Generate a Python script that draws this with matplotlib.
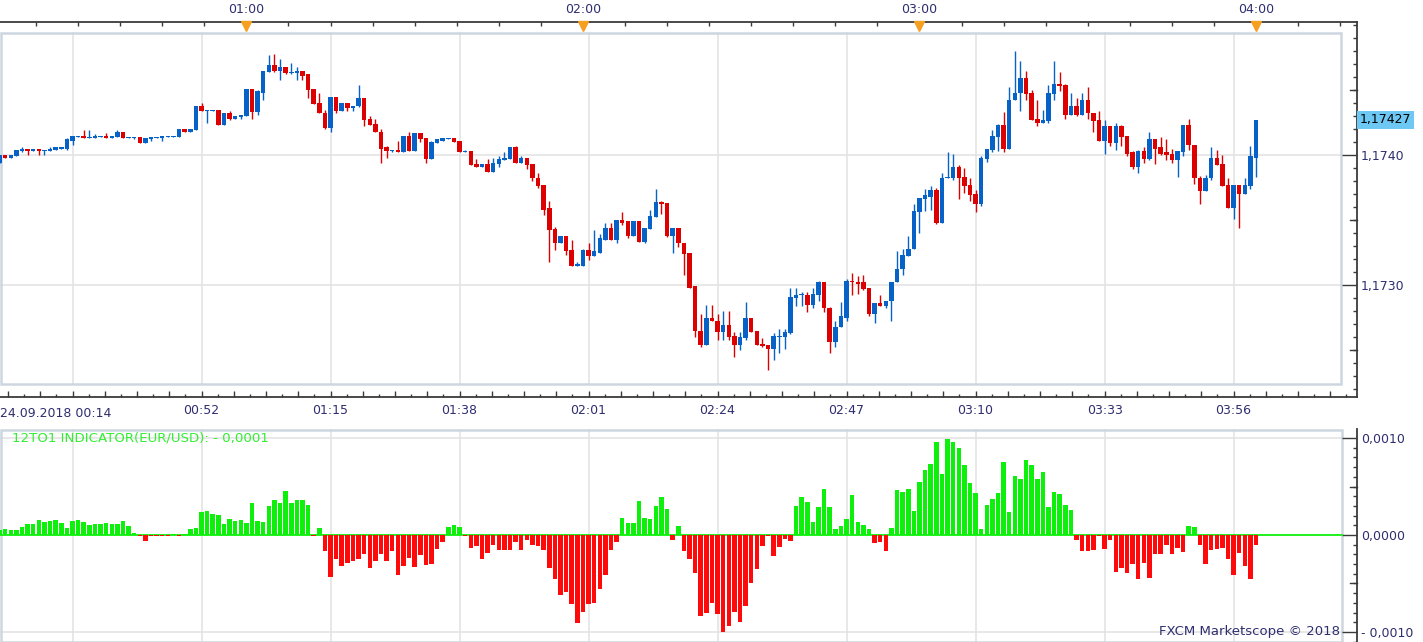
import numpy as np
import matplotlib
matplotlib.use('Agg')
import matplotlib.pyplot as plt
from matplotlib.patches import Rectangle
from matplotlib.ticker import FixedLocator, FixedFormatter, MultipleLocator

plt.rcParams['font.family'] = ['DejaVu Sans']

# EUR/USD 1-minute candles, first one at 00:16
first_minute = 16
opens = [
    1.17394, 1.17400, 1.17398, 1.17399, 1.17403, 1.17405, 1.17403, 1.17405, 1.17403, 1.17403,
    1.17404, 1.17405, 1.17405, 1.17411, 1.17414, 1.17415, 1.17413, 1.17413, 1.17414, 1.17415,
    1.17413, 1.17414, 1.17418, 1.17413, 1.17413, 1.17414, 1.17409, 1.17412, 1.17413, 1.17413,
    1.17414, 1.17414, 1.17414, 1.17420, 1.17418, 1.17419, 1.17438, 1.17434, 1.17434, 1.17435,
    1.17423, 1.17432, 1.17428, 1.17429, 1.17430, 1.17451, 1.17433, 1.17448, 1.17464, 1.17469,
    1.17465, 1.17468, 1.17463, 1.17463, 1.17465, 1.17462, 1.17451, 1.17440, 1.17432, 1.17421,
    1.17445, 1.17434, 1.17440, 1.17436, 1.17438, 1.17444, 1.17428, 1.17424, 1.17418, 1.17406,
    1.17403, 1.17404, 1.17402, 1.17415, 1.17403, 1.17417, 1.17413, 1.17397, 1.17409, 1.17411,
    1.17412, 1.17413, 1.17411, 1.17402, 1.17403, 1.17393, 1.17391, 1.17393, 1.17387, 1.17393,
    1.17396, 1.17397, 1.17406, 1.17394, 1.17398, 1.17393, 1.17382, 1.17377, 1.17359, 1.17343,
    1.17332, 1.17338, 1.17327, 1.17315, 1.17315, 1.17327, 1.17322, 1.17325, 1.17335, 1.17344,
    1.17335, 1.17350, 1.17349, 1.17338, 1.17349, 1.17333, 1.17343, 1.17352, 1.17364, 1.17363,
    1.17338, 1.17344, 1.17332, 1.17325, 1.17299, 1.17265, 1.17254, 1.17275, 1.17272, 1.17264,
    1.17269, 1.17261, 1.17254, 1.17259, 1.17275, 1.17265, 1.17255, 1.17254, 1.17251, 1.17260,
    1.17260, 1.17263, 1.17290, 1.17292, 1.17292, 1.17285, 1.17292, 1.17302, 1.17282, 1.17256,
    1.17268, 1.17275, 1.17303, 1.17302, 1.17302, 1.17298, 1.17278, 1.17286, 1.17284, 1.17288,
    1.17302, 1.17312, 1.17322, 1.17328, 1.17356, 1.17366, 1.17368, 1.17373, 1.17348, 1.17382,
    1.17382, 1.17391, 1.17383, 1.17377, 1.17370, 1.17362, 1.17397, 1.17404, 1.17414, 1.17423,
    1.17405, 1.17442, 1.17448, 1.17459, 1.17448, 1.17428, 1.17425, 1.17426, 1.17447, 1.17455,
    1.17454, 1.17431, 1.17438, 1.17431, 1.17442, 1.17432, 1.17427, 1.17411, 1.17422, 1.17409,
    1.17422, 1.17415, 1.17402, 1.17391, 1.17403, 1.17397, 1.17412, 1.17406, 1.17402, 1.17401,
    1.17396, 1.17402, 1.17423, 1.17408, 1.17382, 1.17372, 1.17382, 1.17398, 1.17393, 1.17377,
    1.17359, 1.17377, 1.17370, 1.17376, 1.17398,
]
closes = [
    1.17400, 1.17398, 1.17400, 1.17404, 1.17405, 1.17403, 1.17405, 1.17403, 1.17404, 1.17405,
    1.17406, 1.17406, 1.17412, 1.17415, 1.17415, 1.17413, 1.17414, 1.17415, 1.17415, 1.17413,
    1.17415, 1.17418, 1.17413, 1.17414, 1.17414, 1.17409, 1.17413, 1.17414, 1.17414, 1.17415,
    1.17415, 1.17415, 1.17420, 1.17418, 1.17420, 1.17438, 1.17434, 1.17435, 1.17435, 1.17423,
    1.17432, 1.17428, 1.17430, 1.17431, 1.17451, 1.17433, 1.17449, 1.17465, 1.17469, 1.17465,
    1.17468, 1.17463, 1.17464, 1.17465, 1.17461, 1.17450, 1.17439, 1.17432, 1.17421, 1.17445,
    1.17434, 1.17440, 1.17436, 1.17438, 1.17444, 1.17427, 1.17423, 1.17418, 1.17405, 1.17403,
    1.17404, 1.17402, 1.17415, 1.17403, 1.17417, 1.17412, 1.17397, 1.17410, 1.17412, 1.17413,
    1.17413, 1.17410, 1.17402, 1.17403, 1.17392, 1.17391, 1.17393, 1.17387, 1.17394, 1.17397,
    1.17398, 1.17406, 1.17394, 1.17398, 1.17392, 1.17382, 1.17376, 1.17358, 1.17342, 1.17332,
    1.17338, 1.17326, 1.17315, 1.17316, 1.17327, 1.17322, 1.17326, 1.17336, 1.17344, 1.17335,
    1.17350, 1.17348, 1.17338, 1.17349, 1.17333, 1.17344, 1.17353, 1.17364, 1.17362, 1.17338,
    1.17344, 1.17332, 1.17324, 1.17298, 1.17265, 1.17254, 1.17275, 1.17272, 1.17264, 1.17269,
    1.17260, 1.17254, 1.17260, 1.17275, 1.17264, 1.17254, 1.17253, 1.17251, 1.17261, 1.17261,
    1.17264, 1.17291, 1.17292, 1.17293, 1.17285, 1.17293, 1.17302, 1.17282, 1.17256, 1.17268,
    1.17276, 1.17303, 1.17302, 1.17301, 1.17297, 1.17278, 1.17286, 1.17284, 1.17288, 1.17302,
    1.17312, 1.17323, 1.17328, 1.17357, 1.17367, 1.17369, 1.17373, 1.17348, 1.17382, 1.17383,
    1.17391, 1.17382, 1.17376, 1.17369, 1.17362, 1.17398, 1.17405, 1.17415, 1.17423, 1.17405,
    1.17442, 1.17448, 1.17459, 1.17447, 1.17427, 1.17425, 1.17427, 1.17448, 1.17455, 1.17453,
    1.17431, 1.17438, 1.17431, 1.17442, 1.17432, 1.17426, 1.17411, 1.17422, 1.17409, 1.17422,
    1.17414, 1.17401, 1.17391, 1.17403, 1.17397, 1.17412, 1.17405, 1.17401, 1.17400, 1.17396,
    1.17403, 1.17423, 1.17408, 1.17382, 1.17372, 1.17382, 1.17398, 1.17392, 1.17376, 1.17359,
    1.17377, 1.17370, 1.17377, 1.17399, 1.17427,
]
highs = [
    1.17400, 1.17400, 1.17400, 1.17404, 1.17406, 1.17405, 1.17405, 1.17405, 1.17404, 1.17406,
    1.17406, 1.17406, 1.17413, 1.17415, 1.17415, 1.17419, 1.17419, 1.17416, 1.17415, 1.17417,
    1.17415, 1.17419, 1.17418, 1.17414, 1.17414, 1.17414, 1.17413, 1.17414, 1.17414, 1.17415,
    1.17415, 1.17415, 1.17420, 1.17420, 1.17420, 1.17438, 1.17440, 1.17435, 1.17435, 1.17435,
    1.17432, 1.17434, 1.17430, 1.17431, 1.17451, 1.17451, 1.17450, 1.17465, 1.17477, 1.17478,
    1.17474, 1.17468, 1.17471, 1.17468, 1.17465, 1.17462, 1.17451, 1.17448, 1.17435, 1.17445,
    1.17445, 1.17440, 1.17440, 1.17438, 1.17454, 1.17444, 1.17430, 1.17428, 1.17420, 1.17407,
    1.17404, 1.17411, 1.17415, 1.17418, 1.17417, 1.17417, 1.17413, 1.17411, 1.17412, 1.17413,
    1.17413, 1.17413, 1.17411, 1.17404, 1.17403, 1.17397, 1.17393, 1.17397, 1.17398, 1.17399,
    1.17402, 1.17406, 1.17407, 1.17399, 1.17398, 1.17393, 1.17386, 1.17377, 1.17365, 1.17345,
    1.17338, 1.17338, 1.17335, 1.17318, 1.17328, 1.17332, 1.17342, 1.17339, 1.17348, 1.17348,
    1.17350, 1.17356, 1.17349, 1.17349, 1.17349, 1.17344, 1.17358, 1.17374, 1.17365, 1.17363,
    1.17344, 1.17344, 1.17332, 1.17325, 1.17299, 1.17278, 1.17285, 1.17285, 1.17278, 1.17280,
    1.17280, 1.17264, 1.17264, 1.17287, 1.17275, 1.17265, 1.17259, 1.17254, 1.17263, 1.17266,
    1.17266, 1.17298, 1.17298, 1.17295, 1.17295, 1.17298, 1.17303, 1.17302, 1.17283, 1.17272,
    1.17287, 1.17305, 1.17309, 1.17307, 1.17308, 1.17298, 1.17286, 1.17292, 1.17288, 1.17302,
    1.17326, 1.17328, 1.17338, 1.17362, 1.17367, 1.17374, 1.17376, 1.17375, 1.17386, 1.17402,
    1.17401, 1.17392, 1.17390, 1.17382, 1.17373, 1.17399, 1.17405, 1.17419, 1.17424, 1.17433,
    1.17452, 1.17480, 1.17472, 1.17465, 1.17450, 1.17442, 1.17435, 1.17454, 1.17472, 1.17464,
    1.17455, 1.17448, 1.17444, 1.17448, 1.17452, 1.17432, 1.17434, 1.17427, 1.17422, 1.17425,
    1.17423, 1.17415, 1.17403, 1.17404, 1.17406, 1.17418, 1.17412, 1.17414, 1.17412, 1.17405,
    1.17403, 1.17423, 1.17428, 1.17408, 1.17384, 1.17385, 1.17406, 1.17404, 1.17400, 1.17382,
    1.17377, 1.17377, 1.17382, 1.17407, 1.17427,
]
lows = [
    1.17394, 1.17398, 1.17398, 1.17399, 1.17402, 1.17400, 1.17403, 1.17400, 1.17400, 1.17403,
    1.17404, 1.17405, 1.17404, 1.17408, 1.17414, 1.17413, 1.17413, 1.17413, 1.17414, 1.17413,
    1.17413, 1.17414, 1.17413, 1.17413, 1.17412, 1.17409, 1.17409, 1.17411, 1.17413, 1.17411,
    1.17414, 1.17414, 1.17414, 1.17418, 1.17418, 1.17419, 1.17434, 1.17425, 1.17434, 1.17423,
    1.17423, 1.17427, 1.17428, 1.17428, 1.17430, 1.17428, 1.17431, 1.17442, 1.17464, 1.17464,
    1.17458, 1.17462, 1.17462, 1.17458, 1.17458, 1.17444, 1.17439, 1.17432, 1.17420, 1.17418,
    1.17432, 1.17434, 1.17434, 1.17434, 1.17437, 1.17422, 1.17423, 1.17418, 1.17394, 1.17398,
    1.17402, 1.17402, 1.17402, 1.17403, 1.17403, 1.17410, 1.17394, 1.17397, 1.17409, 1.17411,
    1.17412, 1.17410, 1.17402, 1.17402, 1.17392, 1.17391, 1.17391, 1.17387, 1.17387, 1.17391,
    1.17396, 1.17397, 1.17394, 1.17394, 1.17389, 1.17380, 1.17375, 1.17354, 1.17318, 1.17327,
    1.17332, 1.17323, 1.17315, 1.17315, 1.17315, 1.17319, 1.17322, 1.17325, 1.17335, 1.17335,
    1.17332, 1.17346, 1.17336, 1.17338, 1.17333, 1.17332, 1.17343, 1.17352, 1.17355, 1.17337,
    1.17325, 1.17329, 1.17308, 1.17298, 1.17260, 1.17252, 1.17254, 1.17272, 1.17258, 1.17258,
    1.17258, 1.17245, 1.17250, 1.17258, 1.17264, 1.17254, 1.17252, 1.17235, 1.17242, 1.17248,
    1.17251, 1.17262, 1.17284, 1.17284, 1.17279, 1.17282, 1.17288, 1.17279, 1.17248, 1.17252,
    1.17268, 1.17272, 1.17292, 1.17293, 1.17296, 1.17276, 1.17271, 1.17284, 1.17282, 1.17272,
    1.17302, 1.17308, 1.17322, 1.17328, 1.17340, 1.17357, 1.17358, 1.17347, 1.17348, 1.17382,
    1.17381, 1.17366, 1.17371, 1.17365, 1.17356, 1.17361, 1.17395, 1.17402, 1.17403, 1.17402,
    1.17405, 1.17442, 1.17434, 1.17442, 1.17427, 1.17422, 1.17425, 1.17425, 1.17442, 1.17449,
    1.17428, 1.17431, 1.17430, 1.17431, 1.17428, 1.17418, 1.17411, 1.17401, 1.17407, 1.17404,
    1.17407, 1.17399, 1.17389, 1.17386, 1.17394, 1.17396, 1.17393, 1.17400, 1.17396, 1.17394,
    1.17383, 1.17399, 1.17404, 1.17378, 1.17362, 1.17372, 1.17381, 1.17392, 1.17376, 1.17359,
    1.17351, 1.17344, 1.17370, 1.17374, 1.17383,
]

# 12TO1 indicator, in points (1 point = 0.00001)
osc_points = [
    5, 6, 5, 5, 8, 11, 11, 15, 13, 14,
    15, 12, 7, 14, 15, 13, 10, 11, 11, 12,
    11, 11, 14, 9, 2, -1, -6, -1, -1, -1,
    -1, 1, -1, 1, 6, 7, 24, 25, 22, 21,
    11, 17, 14, 15, 12, 33, 14, 13, 30, 36,
    33, 45, 33, 36, 36, 31, -1, 7, -16, -43,
    -25, -32, -29, -27, -25, -20, -34, -27, -20, -27,
    -17, -41, -32, -24, -33, -21, -31, -30, -14, -7,
    8, 10, 8, -1, -13, -11, -25, -19, -10, -15,
    -15, -15, -7, -15, -5, -10, -11, -15, -34, -45,
    -62, -59, -71, -91, -79, -71, -70, -56, -41, -15,
    -7, 18, 12, 12, 35, 18, 17, 30, 39, 27,
    -5, 9, -17, -25, -39, -84, -80, -70, -81, -100,
    -94, -79, -90, -73, -49, -35, -11, -1, -22, -12,
    -4, -6, 30, 39, 34, 13, 29, 47, 29, 6,
    9, 16, 41, 13, 10, 6, -8, -7, -16, 7,
    46, 44, 47, 25, 55, 67, 73, 96, 63, 99,
    96, 90, 72, 54, 43, 6, 31, 37, 43, 75,
    24, 61, 58, 77, 72, 58, 65, 29, 44, 42,
    31, 26, -5, -16, -17, -15, -1, -14, -5, -38,
    -34, -39, -30, -45, -29, -44, -20, -20, -10, -20,
    -13, -18, 9, 8, -10, -30, -15, -14, -13, -25,
    -41, -19, -32, -45, -10,
]

top_ticks = [60, 120, 180, 240]
top_labels = ['01:00', '02:00', '03:00', '04:00']
grid_minutes = [29, 52, 75, 98, 121, 144, 167, 190, 213, 236]
grid_labels = ['24.09.2018 00:14', '00:52', '01:15', '01:38', '02:01',
               '02:24', '02:47', '03:10', '03:33', '03:56']
price_labels = [1.1730, 1.1740]
osc_labels = [-0.0010, 0.0, 0.0010]
last_price = 1.17427
indicator_title = '12TO1 INDICATOR(EUR/USD): - 0,0001'

# colours
BLUE = '#0662c6'
RED = '#dc0000'
GREEN_BAR = '#0cf00c'
RED_BAR = '#ff0a0a'
GRID = '#e2e2e2'
FRAME = '#cdd6e0'
DARK = '#3a3a3a'
NAVY = '#2e2e70'
FS = 9

W, H = 1423, 642
fig = plt.figure(figsize=(W / 100, H / 100), dpi=100)
fig.patch.set_facecolor('white')


def px_axes(x0, y0, x1, y1):
    return fig.add_axes([x0 / W, 1 - y1 / H, (x1 - x0) / W, (y1 - y0) / H])


ax = px_axes(0, 22, 1357, 397)
ax2 = px_axes(0, 429, 1357, 642)

x_left = 16.074
x_right = 258.0
frame_right = 1341 / 1357

minutes = np.arange(first_minute, first_minute + len(opens))
o = np.array(opens)
c = np.array(closes)
hi = np.array(highs)
lo = np.array(lows)
cols = np.where(c >= o, BLUE, RED)

# ---- price panel ----
ax.set_xlim(x_left, x_right)
ax.set_ylim(1.1721385, 1.1750231)

fb, ft = (397 - 384) / 375, (397 - 33) / 375
for m in grid_minutes:
    ax.axvline(m, ymin=fb, ymax=ft, color=GRID, lw=1.1, zorder=0)
for p in price_labels:
    ax.axhline(p, xmin=0, xmax=frame_right, color=GRID, lw=1.1, zorder=0)
ax.add_patch(Rectangle((0.001, fb), frame_right - 0.001, ft - fb, transform=ax.transAxes,
                       fill=False, ec=FRAME, lw=1.8, zorder=1))

ax.vlines(minutes, lo, hi, colors=cols, lw=1.0, zorder=3)
body_low = np.minimum(o, c)
body_h = np.maximum(np.abs(c - o), 0.0000085)
ax.bar(minutes, body_h, bottom=body_low, width=0.8, color=cols, linewidth=0, zorder=4)

ax.spines['left'].set_visible(False)
for side in ['top', 'right', 'bottom']:
    ax.spines[side].set_color(DARK)
    ax.spines[side].set_linewidth(1.3)

ax.yaxis.tick_right()
ax.yaxis.set_major_locator(FixedLocator(price_labels))
ax.yaxis.set_major_formatter(FixedFormatter([f'{v:.4f}'.replace('.', ',') for v in price_labels]))
ax.yaxis.set_minor_locator(MultipleLocator(0.0001))
ax.tick_params(axis='y', which='major', direction='in', length=11, width=1, color=DARK,
               labelsize=FS, labelcolor=NAVY, pad=3)
ax.tick_params(axis='y', which='minor', direction='in', length=3, width=1, color=DARK)
for v in [1.1725, 1.1735, 1.1745]:
    ax.plot([1 - 7 / 1357, 1], [v, v], transform=ax.get_yaxis_transform(), color=DARK,
            lw=1, clip_on=False)

# bottom time axis
major_pos = [grid_minutes[0] + 5.75 * j for j in range(-2, 40)]
major_txt = []
for pos in major_pos:
    hit = [lab for m, lab in zip(grid_minutes, grid_labels) if abs(m - pos) < 0.01]
    major_txt.append(hit[0] if hit and hit[0] != grid_labels[0] else '')
ax.xaxis.tick_bottom()
ax.xaxis.set_major_locator(FixedLocator(major_pos))
ax.xaxis.set_major_formatter(FixedFormatter(major_txt))
ax.xaxis.set_minor_locator(FixedLocator([grid_minutes[0] + 2.875 * j for j in range(-4, 80)]))
ax.tick_params(axis='x', which='major', direction='in', length=4.5, width=1, color=DARK,
               labelsize=FS, labelcolor=NAVY, pad=5)
ax.tick_params(axis='x', which='minor', direction='in', length=2.2, width=1, color=DARK)
ax.text(0.0, -0.043, grid_labels[0], transform=ax.transAxes, ha='left', va='center',
        fontsize=FS, color=NAVY)

# top time axis
top = ax.twiny()
top.set_xlim(x_left, x_right)
top.set_xticks(top_ticks)
top.set_xticklabels(top_labels)
top.xaxis.set_minor_locator(MultipleLocator(7.5))
top.tick_params(axis='x', which='major', direction='in', length=0, labelsize=FS,
                labelcolor=NAVY, pad=4)
top.tick_params(axis='x', which='minor', direction='in', length=3, width=1, color=DARK)
for s in top.spines.values():
    s.set_visible(False)
ax.plot(top_ticks, [0.989] * len(top_ticks), transform=ax.get_xaxis_transform(), ls='none',
        marker='v', ms=6.5, color='#f5a020', clip_on=False, zorder=6)

ax.text(1.0 + 3 / 1357, last_price, f'{last_price:.5f}'.replace('.', ','),
        transform=ax.get_yaxis_transform(), ha='left', va='center', fontsize=FS,
        color='black', bbox=dict(boxstyle='square,pad=0.22', fc='#6ec8f4', ec='none'),
        zorder=7)

# ---- indicator panel ----
osc = np.array(osc_points) * 1e-5
ax2.set_xlim(x_left, x_right)
ax2.set_ylim(-0.0011031, 0.0010928)
for m in grid_minutes:
    ax2.axvline(m, color=GRID, lw=1.1, zorder=0)
for v in [-0.0010, 0.0010]:
    ax2.axhline(v, xmin=0, xmax=1342 / 1357, color=GRID, lw=1.1, zorder=0)
ax2.add_patch(Rectangle((0.001, 0.002), 1342 / 1357 - 0.001, 0.993, transform=ax2.transAxes,
                        fill=False, ec=FRAME, lw=1.8, zorder=1))
ax2.axhline(0, xmin=0, xmax=1342 / 1357, color='#1ef01e', lw=1.4, zorder=2)
ax2.bar(minutes, osc, width=0.8, color=np.where(osc >= 0, GREEN_BAR, RED_BAR), linewidth=0,
        zorder=3)

for side in ['left', 'top', 'bottom']:
    ax2.spines[side].set_visible(False)
ax2.spines['right'].set_color(DARK)
ax2.spines['right'].set_linewidth(1.3)
ax2.set_xticks([])
ax2.yaxis.tick_right()
ax2.yaxis.set_major_locator(FixedLocator(osc_labels))
ax2.yaxis.set_major_formatter(FixedFormatter(
    [('- ' if v < 0 else '') + f'{abs(v):.4f}'.replace('.', ',') for v in osc_labels]))
ax2.yaxis.set_minor_locator(MultipleLocator(0.0001))
ax2.tick_params(axis='y', which='major', direction='in', length=11, width=1, color=DARK,
                labelsize=FS, labelcolor=NAVY, pad=3)
ax2.tick_params(axis='y', which='minor', direction='in', length=3, width=1, color=DARK)
for v in [-0.0005, 0.0005]:
    ax2.plot([1 - 7 / 1357, 1], [v, v], transform=ax2.get_yaxis_transform(), color=DARK,
             lw=1, clip_on=False)

ax2.text(12 / 1357, (642 - 438) / 213, indicator_title, transform=ax2.transAxes,
         ha='left', va='center', fontsize=9.6, color='#33ee33')
ax2.text(1340 / 1357, (642 - 632) / 213, 'FXCM Marketscope \u00a9 2018', transform=ax2.transAxes,
         ha='right', va='center', fontsize=9.5, color=NAVY, zorder=5)

fig.savefig('out.png', dpi=100, facecolor='white')
